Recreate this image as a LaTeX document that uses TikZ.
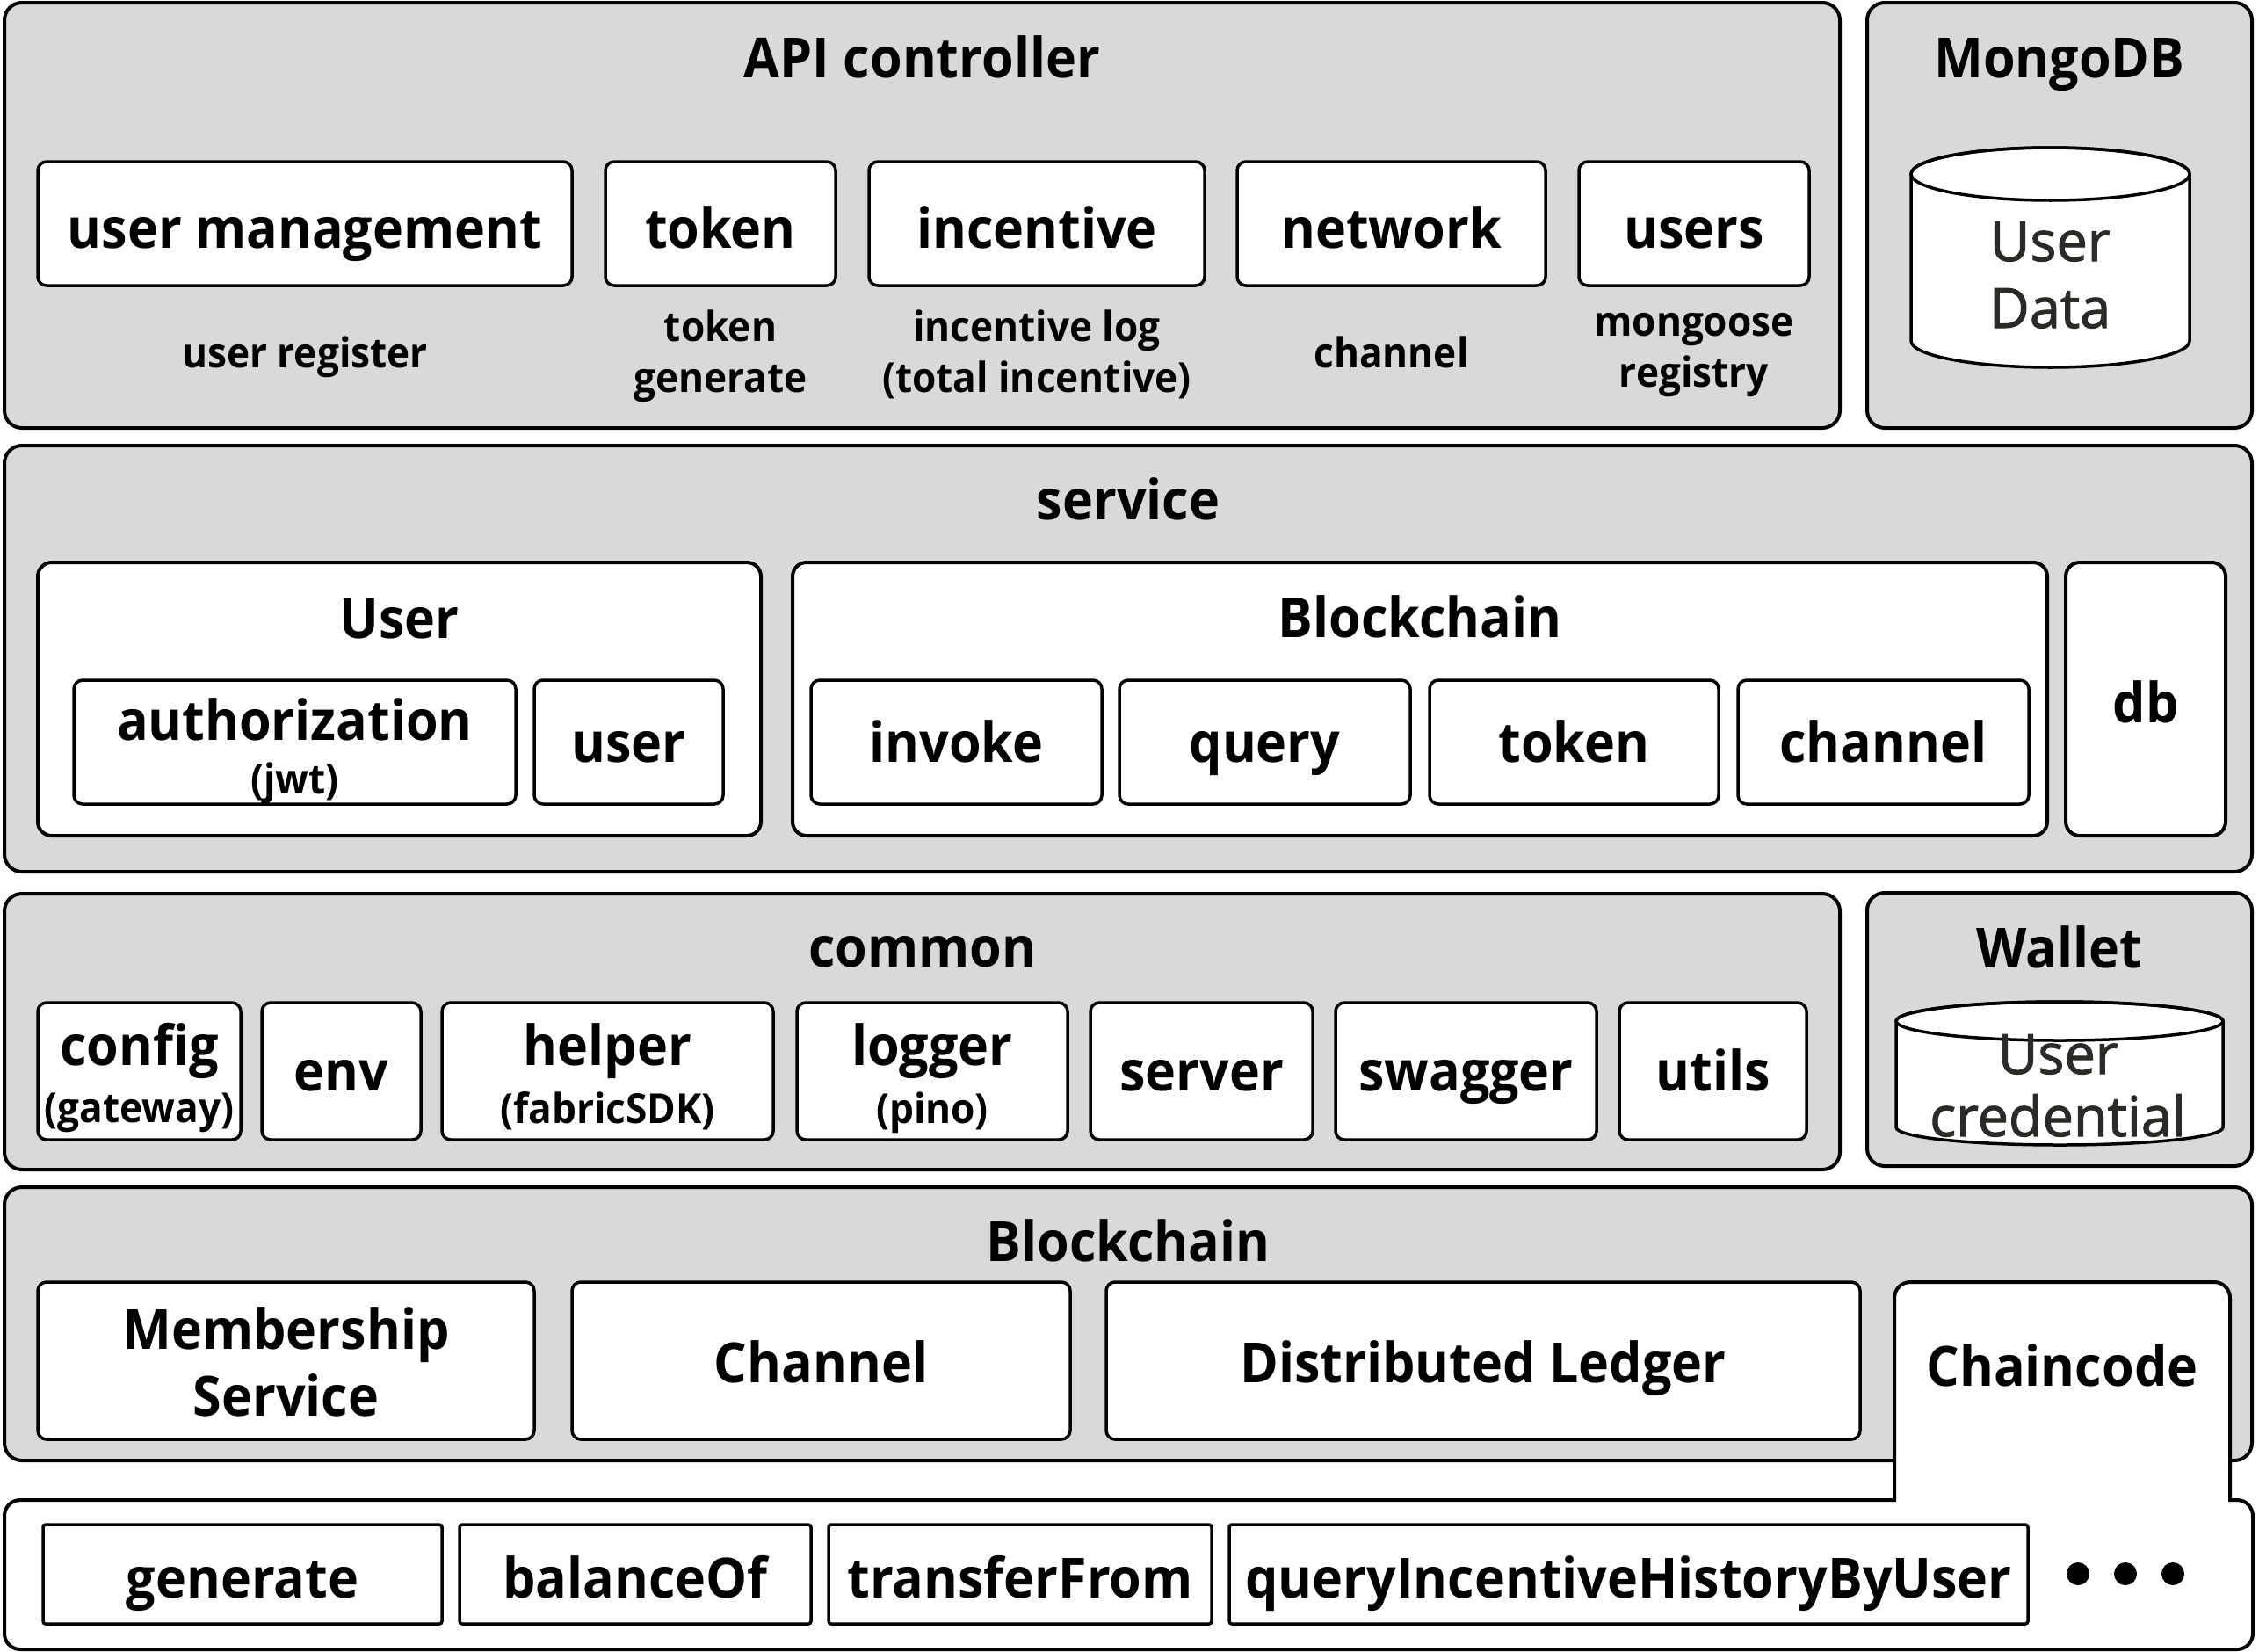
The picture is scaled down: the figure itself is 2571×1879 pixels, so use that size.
\documentclass[tikz,border=0pt]{standalone}
\usepackage{fontspec}
\setmainfont{Open Sans}[FakeStretch=0.94]
\newfontfamily\cylfamily{Open Sans}[FakeBold=1.6]
\definecolor{layergray}{HTML}{D9D9D9}
\definecolor{cyltext}{HTML}{2A2A26}
\newcommand{\mybigfont}{\fontsize{63}{76}\selectfont\bfseries}
\newcommand{\mysmallfont}{\fontsize{47}{58}\selectfont\bfseries}
\newcommand{\mycylfont}{\cylfamily\fontsize{63}{76}\selectfont}
\begin{document}
\begin{tikzpicture}[x=1pt,y=-1pt,
  wh/.style 2 args={minimum width=#1pt, minimum height=#2pt},
  layer/.style={draw, line width=4pt, fill=layergray, rounded corners=20pt, inner sep=0pt, outer sep=0pt},
  group/.style={draw, line width=4pt, fill=white, rounded corners=16pt, inner sep=0pt, outer sep=0pt},
  item/.style={draw, line width=3.5pt, fill=white, rounded corners=10pt, inner sep=0pt, outer sep=0pt, text depth=0pt, font=\mybigfont},
  fnitem/.style={item, rounded corners=3pt},
  bigtxt/.style={inner sep=0pt, anchor=base, font=\mybigfont},
  smalltxt/.style={inner sep=0pt, anchor=base, font=\mysmallfont},
  cyl/.style={draw, line width=3.5pt, fill=white},
  cyltxt/.style={inner sep=0pt, anchor=base, font=\mycylfont, text=cyltext},
  dot/.style={circle, fill=black, inner sep=0pt, minimum size=26pt}
]
\useasboundingbox (0,0) rectangle (2571,1879);

% ---------- layers ----------
\node[layer, wh={2089}{484}] (api) at (1049.5,245) {};
\node[layer, wh={438}{484}] (mongo) at (2344,245) {};
\node[layer, wh={2558}{485}] (service) at (1284,749.5) {};
\node[layer, wh={2089}{314}] (common) at (1049.5,1174) {};
\node[layer, wh={438}{311}] (wallet) at (2344,1171.5) {};
\node[layer, wh={2558}{311}] (chain) at (1284,1506.5) {};

% ---------- titles ----------
\node[bigtxt] (apiT) at (1049.5,88) {API controller};
\node[bigtxt] (mongoT) at (2344,88) {MongoDB};
\node[bigtxt] (svcT) at (1284,591) {service};
\node[bigtxt] (comT) at (1049.5,1100) {common};
\node[bigtxt] (walT) at (2344,1101) {Wallet};
\node[bigtxt] (chainT) at (1284,1435) {Blockchain};

% ---------- API controller ----------
\begin{scope}[every node/.append style={text height=55pt}]
\node[item, wh={608}{141}] (um) at (347,254.5) {user management};
\node[item, wh={262}{141}] (tok) at (820,254.5) {token};
\node[item, wh={382}{141}] (inc) at (1180,254.5) {incentive};
\node[item, wh={351}{141}] (net) at (1583.5,254.5) {network};
\node[item, wh={262}{141}] (usr) at (1928,254.5) {users};
\end{scope}
\node[smalltxt] (umL) at (347,418) {user register};
\node[smalltxt] (tokL1) at (820,388.5) {token};
\node[smalltxt] (tokL2) at (820,446.5) {generate};
\node[smalltxt] (incL1) at (1180,388.5) {incentive log};
\node[smalltxt] (incL2) at (1180,446.5) {(total incentive)};
\node[smalltxt] (netL) at (1583.5,418) {channel};
\node[smalltxt] (usrL1) at (1928,382) {mongoose};
\node[smalltxt] (usrL2) at (1928,440) {registry};

% ---------- MongoDB cylinder ----------
\draw[cyl] (2175,198) -- (2175,388) arc[start angle=180,end angle=0,x radius=158.5,y radius=30] -- (2492,198) arc[start angle=0,end angle=-180,x radius=158.5,y radius=30] -- cycle;
\draw[line width=3.5pt] (2333.5,198) ellipse[x radius=158.5,y radius=30];
\node[cyltxt] (ud1) at (2333,297) {User};
\node[cyltxt] (ud2) at (2333,373) {Data};

% ---------- service ----------
\node[group, wh={823}{311}] (userG) at (454.5,795.5) {};
\node[group, wh={1428}{311}] (bcG) at (1616,795.5) {};
\node[group, wh={182}{311}, font=\mybigfont, text height=53pt, text depth=0pt] (db) at (2442,795.5) {db};
\node[bigtxt] (userT) at (454.5,726) {User};
\node[bigtxt] (bcsT) at (1616,725) {Blockchain};
\node[item, wh={503}{141}] (auth) at (335.5,844.5) {};
\node[bigtxt] (authT) at (335.5,842) {authorization};
\node[smalltxt] (jwtT) at (335.5,903) {(jwt)};
\begin{scope}[every node/.append style={text height=45pt}]
\node[item, wh={215}{141}] (usvc) at (715.5,844.5) {user};
\node[item, wh={331}{141}] (inv) at (1088.5,844.5) {invoke};
\node[item, wh={331}{141}] (qry) at (1439.5,844.5) {query};
\node[item, wh={329}{141}] (tok2) at (1791.5,844.5) {token};
\node[item, wh={331}{141}] (chn) at (2143.5,844.5) {channel};
\end{scope}

% ---------- common ----------
\node[item, wh={231}{156}] (cfg) at (158.5,1219) {};
\node[bigtxt] (cfgT) at (158.5,1212) {config};
\node[smalltxt] (cfgS) at (158.5,1277) {(gateway)};
\node[item, wh={181}{156}, text height=44pt] (env) at (388.5,1219) {env};
\node[item, wh={377}{156}] (hlp) at (691.5,1219) {};
\node[bigtxt] (hlpT) at (691.5,1212) {helper};
\node[smalltxt] (hlpS) at (691.5,1278) {(fabricSDK)};
\node[item, wh={308}{156}] (log) at (1061,1219) {};
\node[bigtxt] (logT) at (1061,1212) {logger};
\node[smalltxt] (logS) at (1061,1278) {(pino)};
\node[item, wh={253}{156}, text height=44pt] (srv) at (1367.5,1219) {server};
\node[item, wh={297}{156}, text height=44pt] (swg) at (1668.5,1219) {swagger};
\node[item, wh={213}{156}, text height=44pt] (utl) at (1949.5,1219) {utils};

% ---------- Wallet cylinder ----------
\draw[cyl] (2158,1162) -- (2158,1283) arc[start angle=180,end angle=0,x radius=186,y radius=20] -- (2530,1162) arc[start angle=0,end angle=-180,x radius=186,y radius=22] -- cycle;
\draw[line width=3.5pt] (2344,1162) ellipse[x radius=186,y radius=22];
\node[cyltxt] (uc1) at (2342,1222) {User};
\node[cyltxt] (uc2) at (2342,1293) {credential};

% ---------- Blockchain layer ----------
\node[item, wh={565}{179}] (msp) at (325.5,1548.5) {};
\node[bigtxt] (mspT1) at (325.5,1535) {Membership};
\node[bigtxt] (mspT2) at (325.5,1611) {Service};
\node[item, wh={567}{179}, text height=49pt] (chan) at (934.5,1548.5) {Channel};
\node[item, wh={858}{179}, text height=49pt] (ledger) at (1688,1548.5) {Distributed Ledger};

% ---------- Chaincode tab + band ----------
\draw[line width=4pt, fill=white] (2156,1707) -- (2156,1477) arc[start angle=180,end angle=270,radius=18] -- (2520,1459) arc[start angle=270,end angle=360,radius=18] -- (2538,1707) -- (2546,1707) arc[start angle=270,end angle=360,radius=18] -- (2564,1859) arc[start angle=0,end angle=90,radius=18] -- (23,1877) arc[start angle=90,end angle=180,radius=18] -- (5,1725) arc[start angle=180,end angle=270,radius=18] -- cycle;
\node[bigtxt] (ccT) at (2347,1577) {Chaincode};

\begin{scope}[every node/.append style={text height=53pt}]
\node[fnitem, wh={454}{113}] (gen) at (276,1791.5) {generate};
\node[fnitem, wh={400}{113}] (bal) at (723,1791.5) {balanceOf};
\node[fnitem, wh={436}{113}] (trf) at (1161,1791.5) {transferFrom};
\node[fnitem, wh={909}{113}] (qih) at (1853.5,1791.5) {queryIncentiveHistoryByUser};
\end{scope}
\node[dot] (d1) at (2365,1791) {};
\node[dot] (d2) at (2419,1791) {};
\node[dot] (d3) at (2473,1791) {};
\end{tikzpicture}
\end{document}
